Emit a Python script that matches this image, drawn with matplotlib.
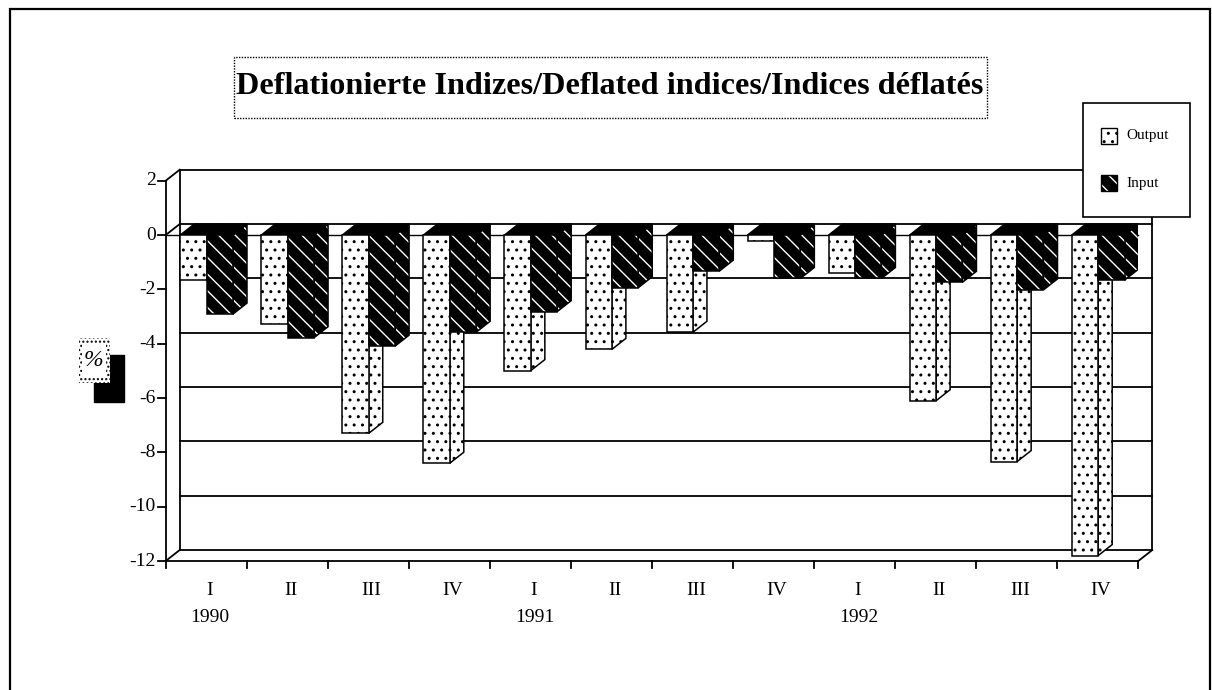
import numpy as np
import matplotlib
matplotlib.use("Agg")
import matplotlib.pyplot as plt
from matplotlib.patches import Rectangle, Polygon

plt.rcParams['font.family'] = ['Liberation Serif', 'DejaVu Serif']
plt.rcParams['hatch.linewidth'] = 1.0

# data (percent changes)
quarters = ['I', 'II', 'III', 'IV'] * 3
years = ['1990', '1991', '1992']
output = [-1.66, -3.29, -7.30, -8.40, -4.99, -4.21, -3.58, -0.22, -1.41, -6.10, -8.34, -11.80]
inputs = [-2.91, -3.78, -4.09, -3.58, -2.82, -1.94, -1.33, -1.60, -1.60, -1.74, -2.02, -1.66]
yticks = [2, 0, -2, -4, -6, -8, -10, -12]
title = 'Deflationierte Indizes/Deflated indices/Indices déflatés'

W, H = 1212, 690
fig = plt.figure(figsize=(W / 100, H / 100), dpi=100)


def fx(px):
    return px / W


def fy(py):
    return 1 - py / H


# axes = front plane of the 3-d box
ax = fig.add_axes([fx(165.7), fy(561), fx(1138.3) - fx(165.7), fy(180.7) - fy(561)])
ax.set_xlim(0, 12)
ax.set_ylim(-12, 2)
ax.axis('off')

DX, DY = 0.173, 0.405   # depth of the 3-d effect in data units
OFF, BW = 0.18, 0.325    # bar offset and width inside a category
n = len(quarters)
ymin, ymax = min(yticks), max(yticks)
LW = 1.3

# back wall, gridlines and left wall
for v in yticks:
    ax.plot([DX, n + DX], [v + DY, v + DY], color='black', lw=LW, zorder=1, clip_on=False)
ax.plot([DX, DX], [ymin + DY, ymax + DY], color='black', lw=LW, zorder=1, clip_on=False)
ax.plot([n + DX, n + DX], [ymin + DY, ymax + DY], color='black', lw=LW, zorder=1, clip_on=False)
for v in (ymax, 0, ymin):
    ax.plot([0, DX], [v, v + DY], color='black', lw=LW, zorder=1, clip_on=False)
ax.plot([n, n + DX], [ymin, ymin + DY], color='black', lw=LW, zorder=1, clip_on=False)
ax.plot([0, 0], [ymin, ymax], color='black', lw=LW, zorder=6, clip_on=False)
ax.plot([0, n], [ymin, ymin], color='black', lw=LW, zorder=1, clip_on=False)
ax.plot([0, n], [0, 0], color='black', lw=1.0, zorder=1, clip_on=False)

# ticks
for v in yticks:
    ax.plot([-0.095, 0], [v, v], color='black', lw=LW, clip_on=False)
    ax.text(-0.125, v, str(v), ha='right', va='center', fontsize=14)
for i in range(n + 1):
    ax.plot([i, i], [ymin, ymin - 0.26], color='black', lw=LW, clip_on=False)
for i, q in enumerate(quarters):
    ax.text(i + 0.54, -13.07, q, ha='center', va='center', fontsize=14)
for k, yr in enumerate(years):
    ax.text(4 * k + 0.55, -14.07, yr, ha='center', va='center', fontsize=14)


def faces(x0, v):
    x1 = x0 + BW
    side = [(x1, 0), (x1 + DX, DY), (x1 + DX, v + DY), (x1, v)]
    top = [(x0, 0), (x1, 0), (x1 + DX, DY), (x0 + DX, DY)]
    return side, top


x = np.arange(n)
for vals, x0, fc, hc, hatch, z in [(output, x + OFF, 'white', 'black', '..', 3),
                                   (inputs, x + OFF + BW, 'black', 'white', '\\\\', 4)]:
    for xi, v in zip(x0, vals):
        side, top = faces(xi, v)
        ax.add_patch(Polygon(side, closed=True, facecolor=fc, edgecolor=hc, hatch=hatch,
                             lw=0, zorder=z))
        ax.add_patch(Polygon(side, closed=True, fill=False, edgecolor='black', lw=1.1,
                             zorder=z + 0.1, joinstyle='miter'))
        ax.add_patch(Polygon(top, closed=True, facecolor='black', edgecolor='black',
                             lw=1.1, zorder=z + 0.1))
    ax.bar(x0, vals, BW, align='edge', color=fc, edgecolor=hc, hatch=hatch, lw=0,
           zorder=z + 0.2)
    ax.bar(x0, vals, BW, align='edge', fill=False, edgecolor='black', lw=1.1,
           zorder=z + 0.3)

# title box
fig.patches.append(Rectangle((fx(233.5), fy(118)), fx(987) - fx(233.5), fy(57) - fy(118),
                             transform=fig.transFigure, facecolor='white', edgecolor='black',
                             lw=1.0, linestyle=(0, (1, 1)), zorder=5))
fig.text(fx(610), fy(87), title, ha='center', va='center', fontsize=23.2,
         fontweight='bold', zorder=6)

# legend
fig.patches.append(Rectangle((fx(1083), fy(217)), fx(1190) - fx(1083), fy(103) - fy(217),
                             transform=fig.transFigure, facecolor='white', edgecolor='black',
                             lw=1.2, zorder=5))
for lab, yc, fc, hc, hatch in [('Output', 136, 'white', 'black', '..'),
                               ('Input', 183, 'black', 'white', '\\\\')]:
    fig.patches.append(Rectangle((fx(1101), fy(yc + 8)), fx(16), fx(16) * W / H,
                                 transform=fig.transFigure, facecolor=fc, edgecolor=hc,
                                 hatch=hatch, lw=0, zorder=6))
    fig.patches.append(Rectangle((fx(1101), fy(yc + 8)), fx(16), fx(16) * W / H,
                                 transform=fig.transFigure, fill=False, edgecolor='black',
                                 lw=1.0, zorder=7))
    fig.text(fx(1126), fy(yc), lab, ha='left', va='center', fontsize=11, zorder=7)

# "%" label with shadow
fig.patches.append(Rectangle((fx(93.5), fy(402)), fx(30), fy(355) - fy(402),
                             transform=fig.transFigure, facecolor='black', edgecolor='black',
                             zorder=5))
fig.patches.append(Rectangle((fx(78.5), fy(383)), fx(31), fy(338) - fy(383),
                             transform=fig.transFigure, facecolor='white', edgecolor='black',
                             hatch='....', lw=0, zorder=6))
fig.patches.append(Rectangle((fx(82), fy(378)), fx(24), fy(343) - fy(378),
                             transform=fig.transFigure, facecolor='white', edgecolor='none',
                             zorder=6.5))
fig.text(fx(93.5), fy(361), '%', ha='center', va='center', fontsize=17, style='italic',
         zorder=7)

# outer frame
fig.patches.append(Rectangle((fx(10), fy(700)), fx(1210) - fx(10), fy(9) - fy(700),
                             transform=fig.transFigure, fill=False, edgecolor='black',
                             lw=1.6, zorder=8))

fig.savefig('out.png', dpi=100)
